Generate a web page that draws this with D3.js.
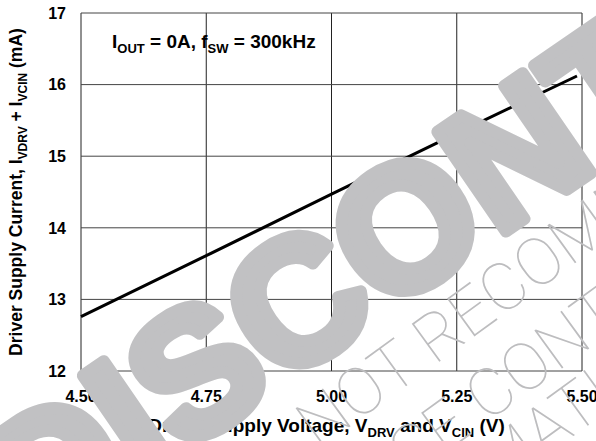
<!DOCTYPE html>
<meta charset="utf-8">
<style>
  body { margin: 0; background: #fff; }
  text { font-family: "Liberation Sans", Arial, sans-serif; font-weight: bold; fill: #000; }
</style>
<body>
<div id="chart"></div>
<script src="https://d3js.org/d3.v7.min.js"></script>
<script>

// Data
var voltage = [4.50, 4.75, 5.00, 5.25, 5.49];
var current = [12.76, 13.61, 14.47, 15.32, 16.12];
var xTicks = [4.50, 4.75, 5.00, 5.25, 5.50];
var yTicks = [12, 13, 14, 15, 16, 17];

var margin = {top: 13, right: 14, bottom: 70, left: 81},
    width = 596 - margin.left - margin.right,
    height = 441 - margin.top - margin.bottom;

var svg = d3.select("#chart").append("svg")
    .attr("width", 596)
    .attr("height", 441);

var g = svg.append("g")
    .attr("transform", "translate(" + margin.left + "," + margin.top + ")");

var x = d3.scaleLinear().domain([4.5, 5.5]).range([0, width]);
var y = d3.scaleLinear().domain([12, 17]).range([height, 0]);

// grid
g.selectAll(".vgrid")
  .data(xTicks)
  .enter().append("line")
    .attr("x1", function(d) { return x(d); })
    .attr("x2", function(d) { return x(d); })
    .attr("y1", 0).attr("y2", height)
    .attr("stroke", "#222").attr("stroke-width", 1);

g.selectAll(".hgrid")
  .data(yTicks)
  .enter().append("line")
    .attr("x1", 0).attr("x2", width)
    .attr("y1", function(d) { return y(d); })
    .attr("y2", function(d) { return y(d); })
    .attr("stroke", "#444").attr("stroke-width", 1);

// tick labels
g.selectAll(".ylab")
  .data(yTicks)
  .enter().append("text")
    .attr("x", -15)
    .attr("y", function(d) { return y(d); })
    .attr("dy", "0.36em")
    .attr("text-anchor", "end")
    .style("font-size", "16px")
    .text(function(d) { return d; });

g.selectAll(".xlab")
  .data(xTicks)
  .enter().append("text")
    .attr("x", function(d) { return x(d); })
    .attr("y", height + 31)
    .attr("text-anchor", "middle")
    .style("font-size", "16px")
    .text(function(d) { return d3.format(".2f")(d); });

// curve
var pts = voltage.map(function(v, i) { return [v, current[i]]; });
var line = d3.line()
    .x(function(d) { return x(d[0]); })
    .y(function(d) { return y(d[1]); });

g.append("path")
    .datum(pts)
    .attr("d", line)
    .attr("fill", "none")
    .attr("stroke", "#000")
    .attr("stroke-width", 3);

// annotation
var ann = g.append("text")
    .attr("x", 31).attr("y", 35)
    .style("font-size", "19px");
ann.append("tspan").text("I");
ann.append("tspan").attr("dy", 5).style("font-size", "13px").text("OUT");
ann.append("tspan").attr("dy", -5).text(" = 0A, f");
ann.append("tspan").attr("dy", 5).style("font-size", "13px").text("SW");
ann.append("tspan").attr("dy", -5).text(" = 300kHz");

// axis titles
var xt = svg.append("text")
    .attr("x", margin.left + width / 2 - 5)
    .attr("y", 432)
    .attr("text-anchor", "middle")
    .style("font-size", "19px");
xt.append("tspan").text("Driver Supply Voltage, V");
xt.append("tspan").attr("dy", 5).style("font-size", "13px").text("DRV");
xt.append("tspan").attr("dy", -5).text(" and V");
xt.append("tspan").attr("dy", 5).style("font-size", "13px").text("CIN");
xt.append("tspan").attr("dy", -5).text(" (V)");

var yt = svg.append("text")
    .attr("transform", "translate(22," + (margin.top + height / 2) + ") rotate(-90)")
    .attr("text-anchor", "middle")
    .style("font-size", "17.5px");
yt.append("tspan").text("Driver Supply Current, I");
yt.append("tspan").attr("dy", 5).style("font-size", "12px").text("VDRV");
yt.append("tspan").attr("dy", -5).text(" + I");
yt.append("tspan").attr("dy", 5).style("font-size", "12px").text("VCIN");
yt.append("tspan").attr("dy", -5).text(" (mA)");

// watermark over the chart
var wm = svg.append("g").attr("class", "watermark");
wm.append("text")
    .attr("transform", "translate(37,554) rotate(-34.5)")
    .style("font-size", "176px")
    .style("fill", "#c1c1c3")
    .style("stroke", "#c1c1c3")
    .style("stroke-width", 12)
    .style("stroke-linejoin", "round")
    .text("DISCONTINUED");

var thin = [
  {t: "NOT RECOMMENDED FOR NEW DESIGNS", x: 318, y: 450},
  {t: "PLEASE CONTACT TI FOR", x: 290, y: 566},
  {t: "INFORMATION", x: 345, y: 602}
];
wm.selectAll(".thin")
  .data(thin)
  .enter().append("text")
    .attr("transform", function(d) { return "translate(" + d.x + "," + d.y + ") rotate(-36)"; })
    .style("font-family", "Roboto, 'Open Sans', sans-serif")
    .style("font-weight", "100")
    .style("font-size", "66px")
    .style("fill", "#bdbdbf")
    .text(function(d) { return d.t; });

</script>
</body>
